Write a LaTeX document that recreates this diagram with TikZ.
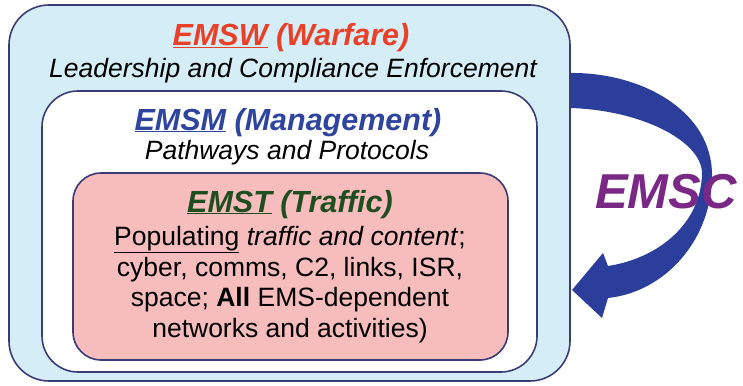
\documentclass[tikz,border=0pt]{standalone}
\usepackage{fontspec}
\setmainfont{Liberation Sans}
\usetikzlibrary{positioning}
\definecolor{emsblue}{RGB}{44,62,156}
\definecolor{emsnavy}{RGB}{58,60,120}
\definecolor{emssky}{RGB}{213,237,246}
\definecolor{emspink}{RGB}{247,188,188}
\definecolor{emsred}{RGB}{234,64,40}
\definecolor{emsgreen}{RGB}{30,78,32}
\definecolor{emspurple}{RGB}{122,40,134}
\definecolor{emstitle}{RGB}{46,68,158}

\begin{document}
\begin{tikzpicture}[x=1pt,y=-1pt,frame/.style={draw=emsnavy,line width=1.6pt},head/.style={anchor=base,inner sep=0pt,font=\fontsize{30.5}{32}\selectfont\bfseries\itshape},sub/.style={anchor=base,inner sep=0pt,font=\fontsize{26.5}{30}\selectfont\itshape},body/.style={anchor=base,inner sep=0pt,align=center,font=\fontsize{26.5}{30.5}\selectfont}]
\useasboundingbox (0,0) rectangle (743,385);
\fill[emsblue] (570,73) .. controls (640,72) and (712,110) .. (712,175) .. controls (712,240) and (665,292) .. (608,298) -- (602,318) -- (572,290) -- (603,253) -- (608,266) .. controls (660,258) and (702,222) .. (702,172) .. controls (700,140) and (640,110) .. (570,108) -- cycle;
\draw[frame,fill=emssky,rounded corners=40pt] (9,5) rectangle (570,381);
\draw[frame,fill=white,rounded corners=36pt] (42,91) rectangle (537,372);
\draw[frame,fill=emspink,rounded corners=28pt] (73,173) rectangle (508,360);
\node[head,text=emsred] (warfare) at (291,46) {\underline{EMSW} (Warfare)};
\node[sub] (warfaresub) at (293,78) {Leadership and Compliance Enforcement};
\node[head,text=emstitle] (mgmt) at (288,130) {\underline{EMSM} (Management)};
\node[sub] (mgmtsub) at (287,159) {Pathways and Protocols};
\node[head,text=emsgreen] (traffic) at (290,212) {\underline{EMST} (Traffic)};
\node[body] (trafficbody) at (290,337) {\underline{Populating} \textit{traffic and content};\\cyber, comms, C2, links, ISR,\\space; \textbf{All} EMS-dependent\\networks and activities)};
\node[anchor=base,inner sep=0pt,text=emspurple,font=\fontsize{49}{50}\selectfont\bfseries\itshape] (emsc) at (666,208) {EMSC};
\end{tikzpicture}
\end{document}
